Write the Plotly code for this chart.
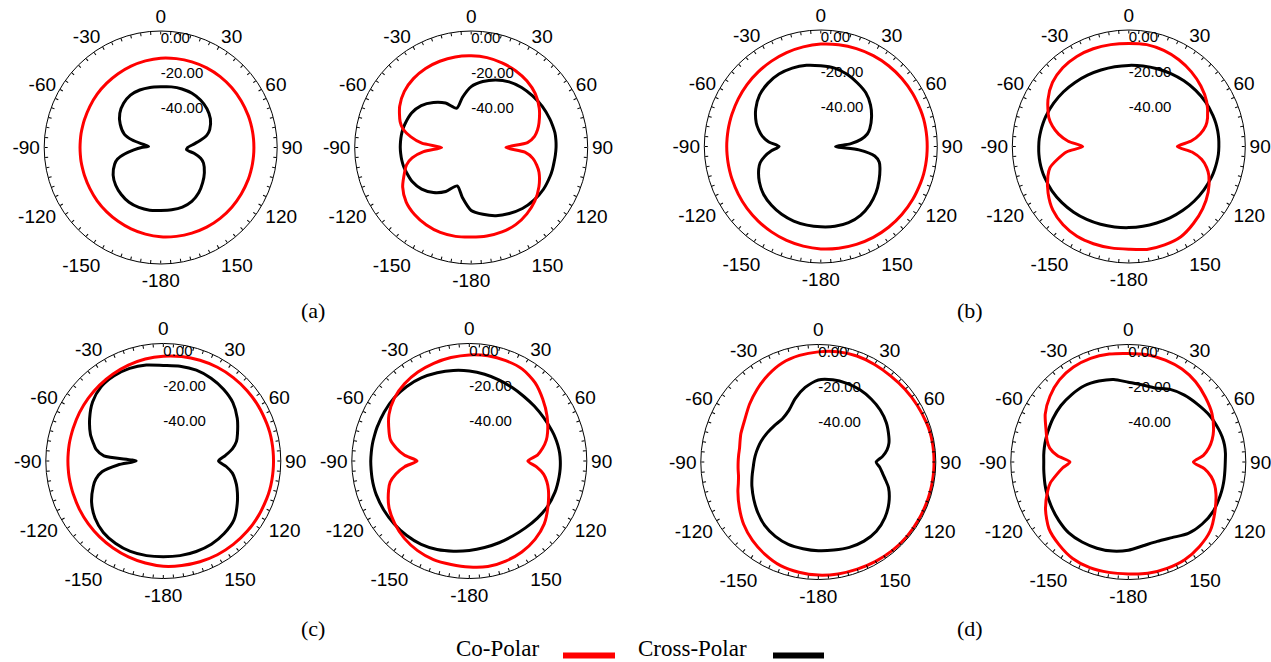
import plotly.graph_objects as go

# Angles (deg, clockwise from 0 at top) shared by every pattern
THETA = [0, 10, 20, 30, 40, 50, 60, 70,
         75, 80, 85, 90, 95, 100, 105, 110,
         120, 130, 140, 150, 160, 170, 180, 190, 200, 210, 220, 230, 240, 250,
         255, 260, 265, 270, 275, 280, 285, 290,
         300, 310, 320, 330, 340, 350]

# (a) left
A1_CO = [-10.6, -10.1, -9.6, -9.1, -8.8, -8.6, -8.5, -8.4,
         -8.4, -8.4, -8.4, -8.4, -8.4, -8.4, -8.4, -8.4,
         -8.5, -8.6, -8.8, -9.1, -9.6, -10.1, -10.6, -11.4, -12.2, -13.0, -13.7, -14.3, -14.9, -15.3,
         -15.45, -15.5, -15.6, -15.6, -15.6, -15.5, -15.45, -15.3,
         -14.9, -14.3, -13.7, -13.0, -12.2, -11.4]
A1_CROSS = [-27.1, -26.6, -26.2, -26.0, -26.4, -27.3, -29.0, -32.0,
            -34.5, -39.0, -43.5, -46.5, -47.0, -42.3, -38.2, -35.8,
            -33.0, -30.5, -28.0, -26.2, -25.5, -25.6, -25.8, -25.4, -25.3, -25.6, -26.7, -28.2, -30.4, -33.8,
            -36.3, -41.2, -46.5, -51.0, -55.0, -52.0, -44.8, -39.8,
            -35.1, -31.3, -28.8, -27.2, -26.8, -26.9]

# (a) right
A2_CO = [-9.3, -9.5, -10.2, -11.0, -12.1, -13.9, -16.8, -20.5,
         -22.5, -25.0, -29.5, -42.0, -31.0, -26.0, -23.0, -20.5,
         -17.0, -14.2, -12.2, -10.8, -10.3, -10.3, -10.5, -10.1, -10.0, -10.5, -11.5, -13.2, -16.5, -21.3,
         -23.5, -27.5, -34.5, -45.0, -33.5, -26.8, -21.5, -18.5,
         -14.5, -11.8, -10.3, -9.5, -9.2, -9.1]
A2_CROSS = [-27.0, -23.5, -20.7, -18.4, -16.9, -15.9, -14.8, -13.9,
            -13.5, -13.1, -13.1, -13.2, -13.4, -13.6, -13.6, -13.7,
            -14.0, -14.9, -16.2, -18.2, -20.3, -23.0, -25.8, -32.8, -38.5, -32.8, -28.2, -24.8, -22.8, -22.0,
            -21.6, -21.4, -21.3, -21.2, -21.2, -21.2, -21.3, -21.6,
            -22.4, -24.5, -28.2, -32.5, -37.9, -32.8]

# (b) left
B1_CO = [-3.1, -2.6, -2.1, -1.65, -1.35, -1.15, -1.0, -0.9,
         -0.8, -0.8, -0.8, -0.8, -0.8, -0.8, -0.8, -0.9,
         -1.0, -1.15, -1.35, -1.65, -2.1, -2.6, -3.1, -3.8, -4.5, -5.3, -6.0, -6.6, -7.2, -7.6,
         -7.75, -7.85, -7.9, -7.9, -7.9, -7.85, -7.75, -7.6,
         -7.2, -6.6, -6.0, -5.3, -4.5, -3.8]
B1_CROSS = [-15.6, -16.2, -17.8, -19.8, -21.7, -24.7, -28.3, -32.0,
            -34.3, -38.5, -45.0, -53.5, -40.0, -30.5, -27.2, -25.8,
            -23.3, -20.6, -18.2, -16.3, -15.4, -15.4, -15.8, -16.1, -16.4, -17.0, -17.9, -19.1, -21.2, -24.0,
            -25.9, -29.2, -33.5, -38.0, -32.0, -27.8, -25.0, -22.5,
            -18.8, -16.0, -14.6, -13.9, -14.0, -14.6]

# (b) right
B2_CO = [-2.7, -2.5, -3.2, -4.4, -6.0, -7.9, -10.3, -13.8,
         -16.2, -20.3, -26.0, -34.1, -25.5, -19.5, -15.7, -13.0,
         -9.3, -6.5, -4.2, -2.1, -1.8, -1.9, -2.9, -2.8, -2.5, -2.4, -3.2, -5.0, -8.4, -12.5,
         -15.1, -20.5, -26.0, -35.5, -27.0, -21.0, -16.5, -13.0,
         -8.3, -4.7, -2.9, -2.2, -2.2, -2.5]
B2_CROSS = [-15.35, -15.0, -14.4, -13.6, -12.7, -11.8, -10.95, -10.4,
            -10.2, -10.1, -10.1, -10.2, -10.3, -10.6, -10.9, -11.2,
            -12.1, -13.0, -13.9, -14.6, -15.2, -15.4, -15.35, -15.0, -14.4, -13.6, -12.7, -11.8, -10.95, -10.4,
            -10.2, -10.1, -10.1, -10.2, -10.3, -10.6, -10.9, -11.2,
            -12.1, -13.0, -13.9, -14.6, -15.2, -15.4]

# (c) left
C1_CO = [-2.2, -1.5, -0.9, -0.3, 0.1, 0.4, 0.6, 0.75,
         0.85, 0.85, 0.85, 0.85, 0.85, 0.85, 0.85, 0.75,
         0.6, 0.4, 0.1, -0.3, -0.9, -1.5, -2.0, -2.9, -3.8, -4.7, -5.5, -6.2, -6.8, -7.3,
         -7.45, -7.5, -7.6, -7.6, -7.6, -7.5, -7.45, -7.3,
         -6.8, -6.2, -5.5, -4.7, -3.8, -2.9]
C1_CROSS = [-7.5, -7.1, -6.9, -7.5, -8.6, -10.2, -13.3, -17.0,
            -18.8, -22.0, -26.5, -30.5, -26.0, -22.0, -19.5, -17.3,
            -13.3, -9.5, -8.0, -7.2, -7.1, -7.2, -7.4, -7.2, -7.1, -7.7, -8.8, -11.2, -14.8, -19.5,
            -22.2, -26.5, -36.0, -46.5, -28.0, -23.0, -20.5, -17.8,
            -13.5, -9.4, -6.8, -5.9, -5.8, -6.4]

# (c) right
C2_CO = [-1.5, -1.1, -1.1, -1.5, -3.7, -7.3, -10.8, -14.5,
         -16.6, -19.5, -23.0, -28.6, -23.5, -19.0, -16.2, -14.0,
         -10.2, -6.2, -3.7, -2.1, -1.3, -0.9, -1.5, -2.1, -2.2, -3.0, -4.4, -6.5, -9.1, -13.0,
         -15.3, -19.5, -25.0, -32.2, -25.0, -19.8, -15.5, -13.3,
         -9.1, -6.2, -4.5, -3.4, -2.7, -2.1]
C2_CROSS = [-10.7, -11.8, -12.8, -13.5, -13.8, -13.5, -12.9, -11.8,
            -11.2, -10.7, -10.3, -10.1, -10.0, -10.0, -10.0, -10.0,
            -10.4, -11.3, -12.2, -12.6, -12.4, -11.9, -11.0, -9.8, -8.3, -7.1, -6.5, -6.1, -5.8, -5.6,
            -5.6, -5.7, -5.8, -5.8, -5.9, -5.9, -6.0, -6.0,
            -6.0, -6.0, -6.5, -7.3, -8.5, -9.6]

# (d) left
D1_CO = [0.8, 1.8, 2.3, 2.2, 2.1, 2.5, 3.0, 3.6,
         3.9, 4.0, 4.0, 4.0, 4.0, 4.0, 4.0, 4.0,
         4.0, 4.0, 3.8, 3.4, 3.0, 2.8, 2.5, 1.8, 0.9, -1.2, -3.6, -6.5, -10.0, -13.2,
         -14.8, -15.8, -16.1, -16.3, -16.4, -16.4, -15.8, -15.0,
         -13.6, -10.8, -7.8, -4.7, -1.9, -0.3]
D1_CROSS = [-15.2, -14.4, -14.3, -14.5, -15.1, -15.9, -17.2, -19.2,
            -20.3, -22.2, -25.2, -29.0, -26.8, -24.8, -22.3, -19.4,
            -15.5, -12.5, -10.5, -9.9, -10.2, -11.0, -11.4, -11.8, -12.0, -13.0, -14.6, -17.0, -19.5, -21.7,
            -22.8, -23.8, -24.7, -25.3, -25.8, -26.3, -26.8, -27.3,
            -28.5, -29.5, -30.0, -28.2, -23.5, -18.8]

# (d) right
D2_CO = [-0.1, 0.1, -0.2, -0.8, -2.3, -4.6, -6.9, -10.3,
         -12.5, -15.3, -19.0, -24.9, -18.5, -14.0, -11.0, -8.8,
         -5.0, -1.0, 1.0, 2.3, 2.5, 2.4, 1.8, 1.9, 2.1, 1.5, -0.5, -2.9, -7.5, -13.0,
         -16.0, -20.5, -24.5, -28.7, -21.5, -16.5, -14.0, -12.2,
         -7.3, -3.7, -0.9, 0.5, 0.9, 0.5]
D2_CROSS = [-16.5, -17.3, -17.1, -14.2, -12.2, -10.6, -8.6, -7.2,
            -6.6, -6.3, -6.4, -6.7, -6.7, -6.5, -6.3, -6.2,
            -6.0, -7.0, -8.8, -12.2, -13.8, -13.5, -11.7, -10.4, -9.7, -9.3, -9.2, -10.2, -11.3, -12.3,
            -12.8, -13.3, -13.6, -13.8, -13.6, -13.4, -13.2, -13.0,
            -12.4, -11.9, -11.8, -11.8, -12.9, -14.2]

PANELS = [(A1_CO, A1_CROSS), (A2_CO, A2_CROSS), (B1_CO, B1_CROSS), (B2_CO, B2_CROSS),
          (C1_CO, C1_CROSS), (C2_CO, C2_CROSS), (D1_CO, D1_CROSS), (D2_CO, D2_CROSS)]

ANGLE_TICKS = list(range(0, 360, 5))
ANGLE_NAMES = {0: "0", 30: "30", 60: "60", 90: "90", 120: "120", 150: "150",
               180: "-180", 210: "-150", 240: "-120", 270: "-90", 300: "-60", 330: "-30"}
RADIAL_TICKS = [0, -20, -40]
RADIAL_NAMES = ["0.00", "-20.00", "-40.00"]
R_RANGE = [-62, 5]

SUB_LABELS = ["(a)", "(b)", "(c)", "(d)"]
LEGEND_NAMES = ["Co-Polar", "Cross-Polar"]

# page geometry (pixels)
W, H = 1271, 662
CENTERS = [(160.7, 147.5), (471.2, 147.5), (820.8, 146.5), (1128.8, 146.5),
           (163.3, 461.0), (469.3, 461.0), (818.3, 462.0), (1128.3, 462.0)]
RADII = [116.5] * 4 + [117.5] * 4

SANS = "Liberation Sans, Arial, sans-serif"
SERIF = "Liberation Serif, Times New Roman, serif"
RED = "#ff0000"


def closed(values):
    return list(values) + [values[0]]


fig = go.Figure()
layout = {}
for i, (co, cross) in enumerate(PANELS):
    key = "polar" if i == 0 else f"polar{i + 1}"
    for vals, col in ((cross, "black"), (co, RED)):
        fig.add_trace(go.Scatterpolar(
            r=closed(vals), theta=closed(THETA), mode="lines", subplot=key,
            line=dict(color=col, width=3, shape="spline", smoothing=0.7),
            showlegend=False, hoverinfo="skip"))
    fig.add_trace(go.Scatterpolar(
        r=RADIAL_TICKS, theta=[0] * len(RADIAL_TICKS), mode="text", subplot=key,
        text=RADIAL_NAMES, textposition="middle right",
        textfont=dict(family=SANS, size=15, color="black"),
        showlegend=False, hoverinfo="skip", cliponaxis=False))

    cx, cy = CENTERS[i]
    rad = RADII[i]
    layout[key] = dict(
        domain=dict(x=[(cx - rad) / W, (cx + rad) / W],
                    y=[1 - (cy + rad) / H, 1 - (cy - rad) / H]),
        bgcolor="white",
        angularaxis=dict(
            rotation=90, direction="clockwise",
            tickmode="array", tickvals=ANGLE_TICKS,
            ticktext=[ANGLE_NAMES.get(t, "") for t in ANGLE_TICKS],
            ticks="inside", ticklen=3, tickwidth=1, tickcolor="black",
            showline=True, linecolor="black", linewidth=1,
            showgrid=False,
            tickfont=dict(family=SANS, size=19, color="black")),
        radialaxis=dict(range=R_RANGE, showline=False, showgrid=False,
                        showticklabels=False, ticks=""),
    )

annotations = []
for lab, (x, y) in zip(SUB_LABELS, [(313, 310), (970, 310), (313, 628), (970, 628)]):
    annotations.append(dict(text=lab, x=x / W, y=1 - y / H, xref="paper", yref="paper",
                            showarrow=False, xanchor="center", yanchor="middle",
                            font=dict(family=SERIF, size=22, color="black")))

# legend: name followed by its line sample
shapes = []
for name, col, tx, (lx0, lx1) in zip(LEGEND_NAMES, [RED, "black"], [455, 637],
                                    [(563, 615), (773, 824)]):
    annotations.append(dict(text=name, x=tx / W, y=0, xref="paper", yref="paper",
                            showarrow=False, xanchor="left", yanchor="bottom",
                            borderpad=0,
                            font=dict(family=SERIF, size=23, color="black")))
    shapes.append(dict(type="line", xref="paper", yref="paper",
                       x0=lx0 / W, x1=lx1 / W, y0=1 - 655.5 / H, y1=1 - 655.5 / H,
                       line=dict(color=col, width=6)))

fig.update_layout(
    width=W, height=H, margin=dict(l=0, r=0, t=0, b=0),
    paper_bgcolor="white", plot_bgcolor="white",
    annotations=annotations, shapes=shapes, **layout)

fig.write_html("out.html")
